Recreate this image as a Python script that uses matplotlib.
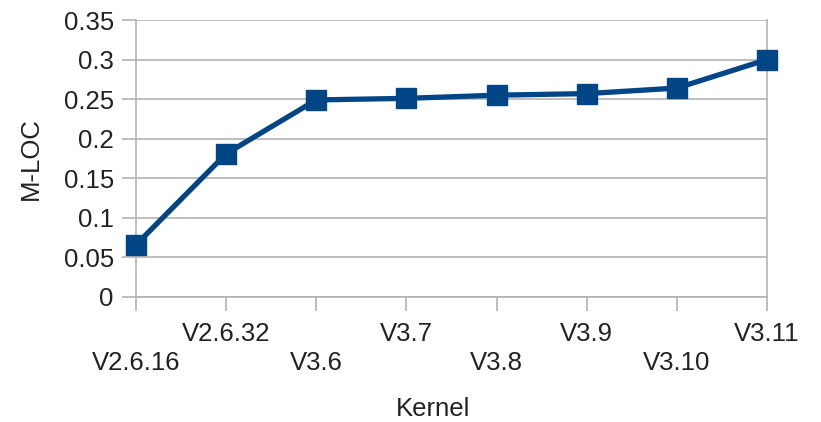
import matplotlib.pyplot as plt
import numpy as np

plt.rcParams['font.family'] = ['Liberation Sans', 'DejaVu Sans']

kernels = ['V2.6.16', 'V2.6.32', 'V3.6', 'V3.7', 'V3.8', 'V3.9', 'V3.10', 'V3.11']
mloc = [0.066, 0.181, 0.249, 0.251, 0.255, 0.257, 0.264, 0.300]

fig = plt.figure(figsize=(8.21, 4.22), dpi=100)
ax = fig.add_axes([136/821, 1-297/422, 631/821, 277/422])

x = np.arange(len(kernels))
ax.plot(x, mloc, color='#004586', lw=3.8, marker='s', ms=14, zorder=3, clip_on=False)

ax.set_xlim(0, len(kernels) - 1)
ax.set_ylim(0, 0.35)
ax.set_yticks(np.arange(0, 0.351, 0.05))
ax.set_yticklabels(['0', '0.05', '0.1', '0.15', '0.2', '0.25', '0.3', '0.35'])

# staggered category labels
labels = ['\n' + k if i % 2 == 0 else k for i, k in enumerate(kernels)]
ax.set_xticks(x)
ax.set_xticklabels(labels, linespacing=1.25)

ax.grid(axis='y', color='#b3b3b3', lw=1.2)
ax.set_axisbelow(True)
ax.spines['top'].set_visible(False)
for s in ['left', 'right', 'bottom']:
    ax.spines[s].set_color('#b3b3b3')
    ax.spines[s].set_linewidth(1.2)
ax.tick_params(axis='both', colors='#b3b3b3', length=10, width=1.2,
               labelcolor='#222222', labelsize=18.5)
ax.tick_params(axis='x', pad=8)
ax.tick_params(axis='y', pad=6)

ax.set_ylabel('M-LOC', fontsize=18.5, color='#222222', labelpad=15)
ax.set_xlabel('Kernel', fontsize=18.5, color='#222222', labelpad=20)
ax.xaxis.set_label_coords(0.47, -0.36)

fig.savefig('out.png', dpi=100)
